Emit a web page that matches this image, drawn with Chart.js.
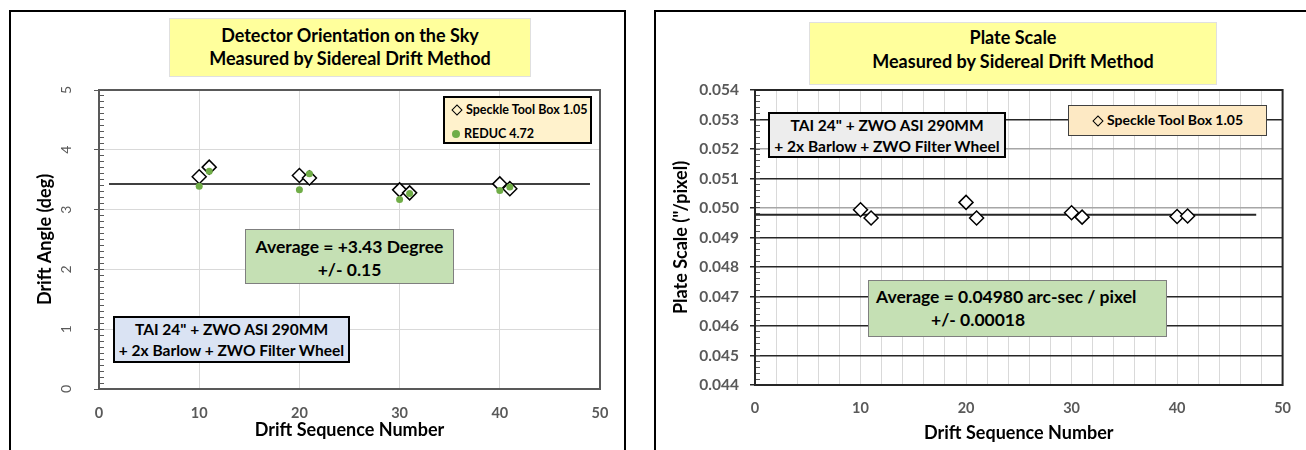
<!DOCTYPE html>
<html>
<head>
<meta charset="utf-8">
<script src="https://cdn.jsdelivr.net/npm/chart.js@4.4.0/dist/chart.umd.min.js"></script>
<style>
  body { margin: 0; width: 1306px; height: 450px; overflow: hidden; background: #fff; position: relative; font-family: Lato, "Noto Sans", sans-serif; }
  .panel { position: absolute; border: 2px solid #000; box-sizing: border-box; background: #fff; }
  .box { position: absolute; box-sizing: border-box; font-weight: bold; color: #000; text-align: center; z-index: 2; white-space: nowrap; }
  canvas { position: absolute; top: 0; z-index: 1; }
  .dia { display: inline-block; width: 6px; height: 6px; border: 1.5px solid #000; transform: rotate(45deg); margin: 0 5px 1px 2px; vertical-align: middle; }
  .dot { display: inline-block; width: 8px; height: 8px; border-radius: 50%; background: #70ad47; margin: 0 4px 1px 1px; vertical-align: middle; }
</style>
</head>
<body>
<div class="panel" style="left:9px; top:10px; width:617px; height:460px;"></div>
<div class="panel" style="left:654px; top:10px; width:700px; height:460px;"></div>

<canvas id="angleChart" width="640" height="450" style="left:0"></canvas>
<canvas id="scaleChart" width="656" height="450" style="left:650px"></canvas>

<!-- left panel boxes -->
<div class="box" style="left:169px; top:18px; width:362px; height:59px; background:#ffff9c; border:1px solid #e0e0e0; font-size:18px; line-height:23px; padding-top:5px;">
  Detector Orientation on the Sky<br>Measured by Sidereal Drift Method
</div>
<div class="box" style="left:443px; top:96px; width:149px; height:48px; background:#fff2cc; border:2px solid #000; font-size:12.5px; line-height:24px; text-align:left; padding-left:6px;">
  <span class="dia"></span>Speckle Tool Box 1.05<br><span class="dot"></span>REDUC 4.72
</div>
<div class="box" style="left:245px; top:229px; width:209px; height:55px; background:#c5e0b4; border:1px solid #7f7f7f; font-size:17.5px; line-height:23px; padding-top:5px;">
  Average = +3.43 Degree<br>+/- 0.15
</div>
<div class="box" style="left:113px; top:316px; width:237px; height:47px; background:#dae3f3; border:2px solid #000; font-size:15.5px; line-height:21px; padding-top:1px;">
  TAI 24" + ZWO ASI 290MM<br>+ 2x Barlow + ZWO Filter Wheel
</div>

<!-- right panel boxes -->
<div class="box" style="left:809px; top:22px; width:408px; height:63px; background:#ffff9c; border:1px solid #e0e0e0; font-size:18px; line-height:24px; padding-top:2px;">
  Plate Scale<br>Measured by Sidereal Drift Method
</div>
<div class="box" style="left:768px; top:112px; width:238px; height:46px; background:#ededed; border:2px solid #000; font-size:15.5px; line-height:21px; padding-top:1px;">
  TAI 24" + ZWO ASI 290MM<br>+ 2x Barlow + ZWO Filter Wheel
</div>
<div class="box" style="left:1068px; top:105px; width:199px; height:31px; background:#fde9c4; border:1.5px solid #404040; font-size:14px; line-height:28px;">
  <span class="dia"></span>Speckle Tool Box 1.05
</div>
<div class="box" style="left:868px; top:280px; width:299px; height:57px; background:#c5e0b4; border:1px solid #7f7f7f; font-size:17.5px; line-height:23px; padding-top:4px; text-align:left; padding-left:7px;">
  Average = 0.04980 arc-sec / pixel<br><span style="padding-left:55px">+/- 0.00018</span>
</div>

<script>
// drift sequence numbers shared by both charts
const seqNumbers = [10, 11, 20, 21, 30, 31, 40, 41];

// detector orientation (deg)
const speckleAngle = [3.55, 3.71, 3.57, 3.53, 3.33, 3.28, 3.43, 3.35];
const reducAngle = [3.39, 3.64, 3.33, 3.60, 3.17, 3.27, 3.32, 3.38];
const angleAvgX = [1, 49];
const angleAvgY = [3.43, 3.43];

// plate scale ("/pixel)
const speckleScale = [0.04994, 0.04966, 0.05019, 0.04966, 0.04984, 0.04969, 0.04971, 0.04973];
const scaleAvgX = [0, 47.5];
const scaleAvgY = [0.04977, 0.04977];

// axis tick labels
const seqTickLabels = ['0', '10', '20', '30', '40', '50'];
const angleTickLabels = ['0', '1', '2', '3', '4', '5'];
const scaleTickLabels = ['0.044', '0.045', '0.046', '0.047', '0.048', '0.049', '0.050', '0.051', '0.052', '0.053', '0.054'];

const toPts = (xs, ys) => xs.map((x, i) => ({ x: x, y: ys[i] }));
const near = (a, b) => Math.abs(a - b) < 1e-7;

const tickFont = { family: 'Lato', size: 14.5, weight: 'bold' };
const titleFont = { family: 'Lato', size: 18, weight: 'bold' };

// box round the plot area
const plotFrame = {
  id: 'plotFrame',
  beforeDatasetsDraw(chart, args, opts) {
    const { ctx, chartArea: a } = chart;
    ctx.save();
    ctx.strokeStyle = opts.color;
    ctx.lineWidth = opts.width;
    ctx.strokeRect(a.left, a.top, a.right - a.left, a.bottom - a.top);
    ctx.restore();
  }
};

new Chart(document.getElementById('angleChart'), {
  type: 'scatter',
  data: {
    datasets: [
      {
        label: 'REDUC 4.72',
        data: toPts(seqNumbers, reducAngle),
        pointStyle: 'circle',
        pointRadius: 3.5,
        backgroundColor: '#70ad47',
        borderWidth: 0,
        order: 0,
      },
      {
        label: 'Speckle Tool Box 1.05',
        data: toPts(seqNumbers, speckleAngle),
        pointStyle: 'rectRot',
        pointRadius: 7,
        backgroundColor: '#fff',
        borderColor: '#000',
        borderWidth: 1.5,
        order: 1,
      },
      {
        label: 'Average',
        type: 'line',
        data: toPts(angleAvgX, angleAvgY),
        borderColor: '#000',
        borderWidth: 1.5,
        pointRadius: 0,
        order: 2,
      },
    ],
  },
  options: {
    responsive: false,
    animation: false,
    layout: { padding: { top: 90, right: 40, left: 0, bottom: 0 } },
    plugins: {
      legend: { display: false },
      tooltip: { enabled: false },
      plotFrame: { color: '#595959', width: 2 },
    },
    scales: {
      x: {
        type: 'linear',
        min: 0,
        max: 50,
        ticks: {
          stepSize: 10,
          padding: 16,
          color: '#595959',
          font: tickFont,
          callback: (v) => seqTickLabels[v / 10],
        },
        grid: { color: '#d9d9d9', drawTicks: false },
        border: { color: '#595959', width: 2 },
        title: { display: true, text: 'Drift Sequence Number', color: '#000', font: titleFont, padding: { top: 0, bottom: 9 } },
        afterFit: (s) => { s.height = 61; },
      },
      y: {
        min: 0,
        max: 5,
        weight: 1,
        ticks: {
          stepSize: 1,
          minRotation: 90,
          maxRotation: 90,
          crossAlign: 'center',
          padding: 23,
          color: '#595959',
          font: { family: 'Lato', size: 14 },
          callback: (v) => angleTickLabels[v],
        },
        grid: { color: '#d9d9d9', tickLength: 5, tickColor: '#595959' },
        border: { color: '#595959', width: 2 },
        title: { display: true, text: 'Drift Angle (deg)', color: '#000', font: titleFont, padding: { top: 34, bottom: 0 } },
        afterFit: (s) => { s.width = 99; },
      },
      yMinor: {
        position: 'left',
        weight: 0,
        min: 0,
        max: 5,
        ticks: { stepSize: 0.1, display: false },
        grid: { drawOnChartArea: false, tickLength: -5, tickColor: '#595959' },
        border: { display: false },
        afterFit: (s) => { s.width = 0; },
      },
    },
  },
  plugins: [plotFrame],
});

new Chart(document.getElementById('scaleChart'), {
  type: 'scatter',
  data: {
    datasets: [
      {
        label: 'Speckle Tool Box 1.05',
        data: toPts(seqNumbers, speckleScale),
        pointStyle: 'rectRot',
        pointRadius: 7,
        backgroundColor: '#fff',
        borderColor: '#000',
        borderWidth: 1.5,
        order: 0,
      },
      {
        label: 'Average',
        type: 'line',
        data: toPts(scaleAvgX, scaleAvgY),
        borderColor: '#262626',
        borderWidth: 2,
        pointRadius: 0,
        order: 1,
      },
    ],
  },
  options: {
    responsive: false,
    animation: false,
    layout: { padding: { top: 90, right: 22, left: 0, bottom: 0 } },
    plugins: {
      legend: { display: false },
      tooltip: { enabled: false },
      plotFrame: { color: '#262626', width: 2 },
    },
    scales: {
      x: {
        type: 'linear',
        min: 0,
        max: 50,
        ticks: {
          stepSize: 2,
          padding: 15,
          color: '#595959',
          font: tickFont,
          autoSkip: false,
          maxRotation: 0,
          callback: (v) => (v % 10 === 0 ? seqTickLabels[v / 10] : ''),
        },
        grid: { color: '#d9d9d9', drawTicks: false },
        border: { color: '#262626', width: 2 },
        title: { display: true, text: 'Drift Sequence Number', color: '#000', font: titleFont, padding: { top: 0, bottom: 6 } },
        afterFit: (s) => { s.height = 65; },
      },
      y: {
        min: 0.044,
        max: 0.054,
        weight: 1,
        ticks: {
          stepSize: 0.001,
          padding: 11,
          color: '#595959',
          font: { family: 'Lato', size: 15.5, weight: 'bold' },
          callback: (v) => scaleTickLabels[Math.round((v - 0.044) / 0.001)],
        },
        grid: {
          color: (c) => (near(c.tick.value, 0.052) || near(c.tick.value, 0.05) ? '#a6a6a6' : '#262626'),
          lineWidth: 1.5,
          tickLength: 5,
          tickColor: '#262626',
        },
        border: { color: '#262626', width: 2 },
        title: { display: true, text: 'Plate Scale ("/pixel)', color: '#000', font: titleFont, padding: { top: 20, bottom: 0 } },
        afterFit: (s) => { s.width = 105; },
      },
      yMinor: {
        position: 'left',
        weight: 0,
        min: 0.044,
        max: 0.054,
        ticks: { stepSize: 0.0002, display: false },
        grid: { drawOnChartArea: false, tickLength: -5, tickColor: '#595959' },
        border: { display: false },
        afterFit: (s) => { s.width = 0; },
      },
    },
  },
  plugins: [plotFrame],
});
</script>
</body>
</html>
